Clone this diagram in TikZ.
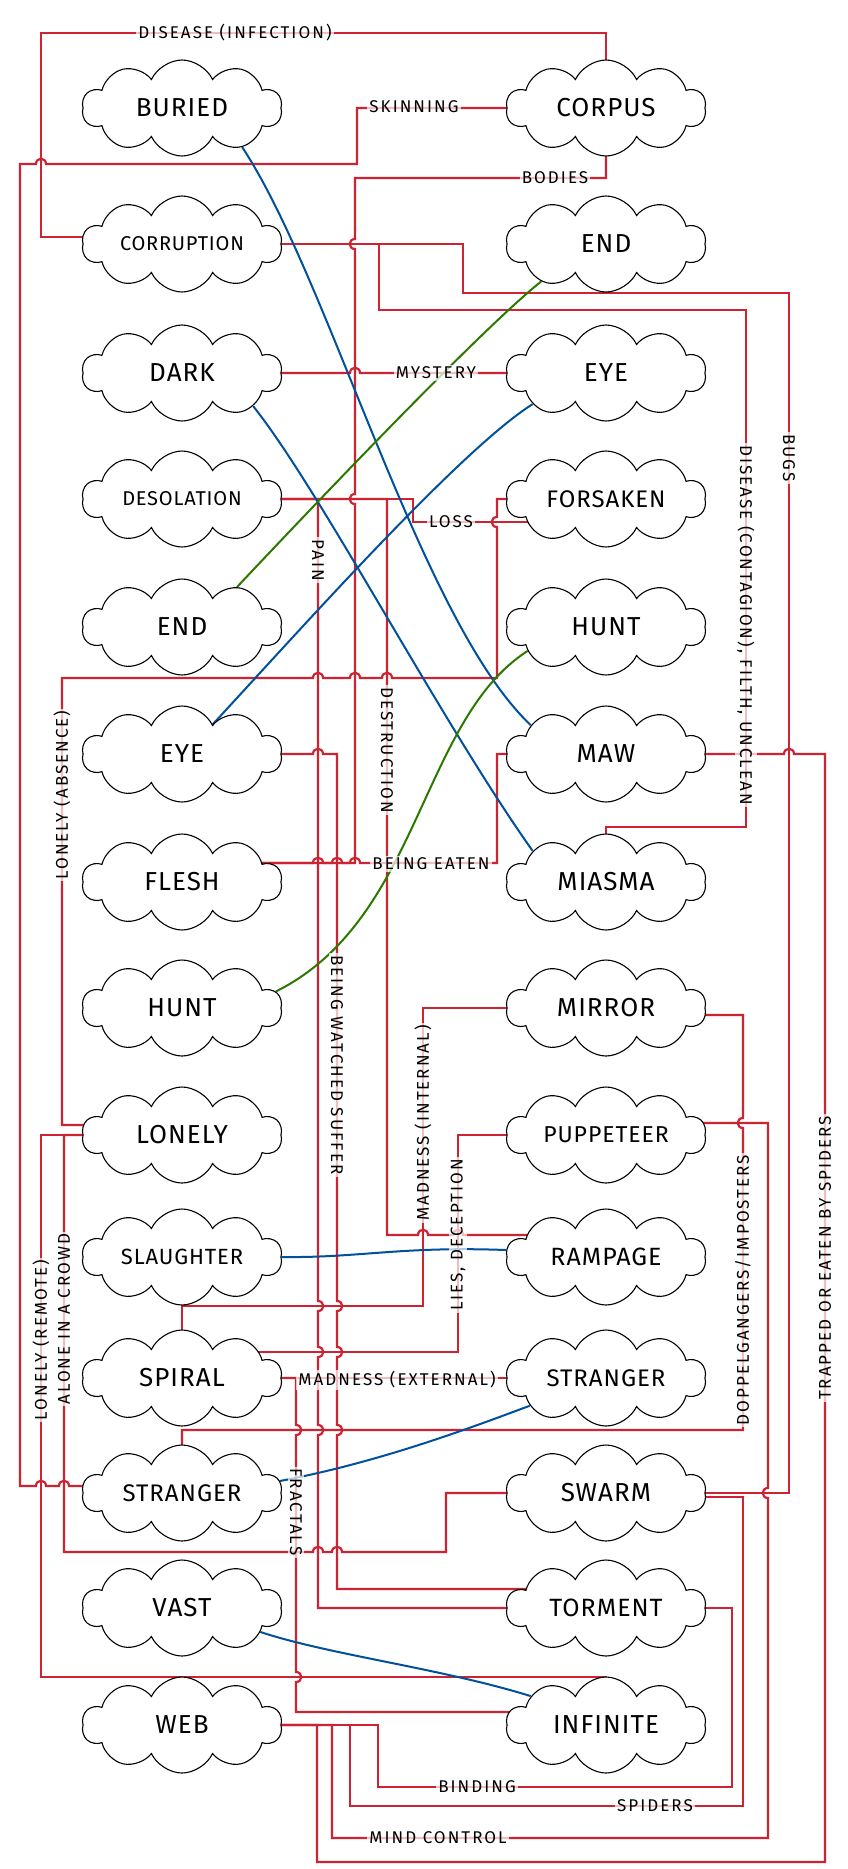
\documentclass[tikz,border=0pt]{standalone}
\usepackage{fontspec}
\setmainfont{Fira Sans}
\newfontfamily\nodefont{Fira Sans}[LetterSpace=4]
\newfontfamily\labfont{Fira Sans}[LetterSpace=12]
\usetikzlibrary{shapes.symbols, backgrounds}
\definecolor{linkRed}{RGB}{205, 35, 50}
\definecolor{linkBlue}{RGB}{0, 80, 155}
\definecolor{linkGreen}{RGB}{45, 120, 0}
% text of a cloud, kept out of the cloud size
\newcommand{\clab}[1]{\makebox[0pt][c]{#1}}
% hops where a red line jumps over another one
\newcommand{\hopR}[2]{-- ({#1-5},#2) .. controls ({#1-5},{#2-7}) and ({#1+5},{#2-7}) .. ({#1+5},#2)}
\newcommand{\hopL}[2]{-- ({#1+5},#2) .. controls ({#1+5},{#2-7}) and ({#1-5},{#2-7}) .. ({#1-5},#2)}
\newcommand{\hopD}[2]{-- (#1,{#2-5}) .. controls ({#1-7},{#2-5}) and ({#1-7},{#2+5}) .. (#1,{#2+5})}
\newcommand{\hopDr}[2]{-- (#1,{#2-5}) .. controls ({#1+7},{#2-5}) and ({#1+7},{#2+5}) .. (#1,{#2+5})}

\begin{document}
\begin{tikzpicture}[
    x=1pt, y=-1pt,
    cloudbox/.style={
        cloud, cloud puffs=10, cloud puff arc=130, aspect=2.2, shape border rotate=18,
        draw, line width=1.1pt, fill=white,
        minimum width=200pt, minimum height=96pt, inner sep=0pt,
        font=\nodefont\fontsize{26}{28}\selectfont
    },
    fs/.style={font=\nodefont\fontsize{#1}{#1}\selectfont},
    redline/.style={draw=linkRed, line width=2.2pt},
    blueline/.style={draw=linkBlue, line width=2pt},
    greenline/.style={draw=linkGreen, line width=2pt},
    edgelab/.style={fill=white, fill opacity=0.7, text opacity=1, inner sep=2pt,
        font=\labfont\fontsize{17}{19}\selectfont}
]
\useasboundingbox (0,0) rectangle (847,1869);

% left column
\node[cloudbox] (buried) at (182,108) {\clab{BURIED}};
\node[cloudbox, fs=20] (corruption) at (182,244) {\clab{CORRUPTION}};
\node[cloudbox] (dark) at (182,373) {\clab{DARK}};
\node[cloudbox, fs=20] (desolation) at (182,499) {\clab{DESOLATION}};
\node[cloudbox] (endL) at (182,627) {\clab{END}};
\node[cloudbox] (eyeL) at (182,754) {\clab{EYE}};
\node[cloudbox] (flesh) at (182,882) {\clab{FLESH}};
\node[cloudbox] (huntL) at (182,1008) {\clab{HUNT}};
\node[cloudbox] (lonely) at (182,1135) {\clab{LONELY}};
\node[cloudbox, fs=22] (slaughter) at (182,1257) {\clab{SLAUGHTER}};
\node[cloudbox] (spiral) at (182,1378) {\clab{SPIRAL}};
\node[cloudbox, fs=24] (strangerL) at (182,1493) {\clab{STRANGER}};
\node[cloudbox] (vast) at (182,1608) {\clab{VAST}};
\node[cloudbox] (web) at (182,1725) {\clab{WEB}};
% right column
\node[cloudbox] (corpus) at (606,108) {\clab{CORPUS}};
\node[cloudbox] (endR) at (606,244) {\clab{END}};
\node[cloudbox] (eyeR) at (606,373) {\clab{EYE}};
\node[cloudbox, fs=24] (forsaken) at (606,499) {\clab{FORSAKEN}};
\node[cloudbox] (huntR) at (606,627) {\clab{HUNT}};
\node[cloudbox] (maw) at (606,754) {\clab{MAW}};
\node[cloudbox] (miasma) at (606,882) {\clab{MIASMA}};
\node[cloudbox] (mirror) at (606,1008) {\clab{MIRROR}};
\node[cloudbox, fs=23] (puppeteer) at (606,1135) {\clab{PUPPETEER}};
\node[cloudbox, fs=25] (rampage) at (606,1257) {\clab{RAMPAGE}};
\node[cloudbox, fs=24] (strangerR) at (606,1378) {\clab{STRANGER}};
\node[cloudbox] (swarm) at (606,1493) {\clab{SWARM}};
\node[cloudbox, fs=25] (torment) at (606,1608) {\clab{TORMENT}};
\node[cloudbox] (infinite) at (606,1725) {\clab{INFINITE}};

\begin{scope}[on background layer]
\fill[white] (0,0) rectangle (847,1869);
% red links
\draw[redline] (corpus.center) -- (606,33) -- (41,33) -- (41,237) -- ([yshift=7pt]corruption.center);
\draw[redline] (corpus.center) -- (357,108) -- (357,164) \hopL{41}{164} -- (20,164) -- (20,1486) \hopR{41}{1486} \hopR{64}{1486} -- ([yshift=7pt]strangerL.center);
\draw[redline] (corpus.center) -- (606,178) -- (355,178) \hopD{355}{244} \hopD{355}{499} -- (355,863) -- ([yshift=19pt]flesh.center);
\draw[redline] ([yshift=19pt]flesh.center) \hopR{318}{863} \hopR{337}{863} \hopR{355}{863} -- (497,863) -- (497,754) -- (maw.center);
\draw[redline] (corruption.center) -- (463,244) -- (463,293) -- (789,293) -- (789,1493) -- (swarm.center);
\draw[redline] (corruption.center) -- (379,244) -- (379,310) -- (746,310) -- (746,827) -- (606,827) -- (miasma.center);
\draw[redline] (dark.center) \hopR{355}{373} -- (eyeR.center);
\draw[redline] (desolation.center) -- (413,499) -- (413,522) -- ([yshift=-23pt]forsaken.center);
\draw[redline] (forsaken.center) -- (497,499) \hopD{497}{522} -- (497,678) \hopL{387}{678} \hopL{355}{678} \hopL{318}{678} -- (62,678) -- (62,1125) -- ([yshift=10pt]lonely.center);
\draw[redline] (desolation.center) -- (318,499) \hopDr{318}{1306} \hopDr{318}{1352} \hopDr{318}{1430} -- (318,1608) -- (torment.center);
\draw[redline] (eyeL.center) \hopR{318}{754} -- (337,754) \hopDr{337}{1306} \hopDr{337}{1352} \hopDr{337}{1430} -- (337,1589) -- ([yshift=19pt]torment.center);
\draw[redline] (desolation.center) -- (387,499) -- (387,1235) \hopR{423}{1235} \hopR{458}{1235} -- ([yshift=22pt]rampage.center);
\draw[redline] (mirror.center) -- (423,1008) -- (423,1306) -- (182,1306) -- (spiral.center);
\draw[redline] (puppeteer.center) -- (458,1135) -- (458,1352) -- ([yshift=26pt]spiral.center);
\draw[redline] (spiral.center) -- (strangerR.center);
\draw[redline] (spiral.center) -- (296,1378) \hopDr{296}{1430} \hopDr{296}{1677} -- (296,1712) -- ([yshift=13pt]infinite.center);
\draw[redline] ([yshift=-7pt]mirror.center) -- (743,1015) \hopD{743}{1123} -- (743,1430) -- (182,1430) -- (strangerL.center);
\draw[redline] ([yshift=12pt]puppeteer.center) -- (768,1123) \hopD{768}{1493} -- (768,1838) -- (332,1838) -- (332,1725) -- (web.center);
\draw[redline] ([yshift=-4pt]swarm.center) -- (743,1497) -- (743,1806) -- (350,1806) -- (350,1725) -- (web.center);
\draw[redline] (torment.center) -- (732,1608) -- (732,1787) -- (378,1787) -- (378,1725) -- (web.center);
\draw[redline] (maw.center) \hopR{746}{754} \hopR{789}{754} -- (825,754) -- (825,1862) -- (317,1862) -- (317,1725) -- (web.center);
\draw[redline] (lonely.center) -- (41,1135) -- (41,1677) -- (606,1677) -- (infinite.center);
\draw[redline] (lonely.center) -- (64,1135) -- (64,1552) \hopR{318}{1552} \hopR{337}{1552} -- (446,1552) -- (446,1493) -- (swarm.center);
% blue and green links
\draw[blueline] (buried.-33) .. controls (330,280) and (420,620) .. (maw.159);
\draw[blueline] (dark.-25) .. controls (320,490) and (440,720) .. (miasma.157);
\draw[blueline] (eyeR.203) .. controls (460,450) and (300,630) .. (eyeL.44);
\draw[greenline] (endR.210) .. controls (480,330) and (300,520) .. (endL.36);
\draw[greenline] (huntR.197) .. controls (420,720) and (420,920) .. (huntL.10);
\draw[blueline] (slaughter.east) .. controls (360,1258) and (400,1246) .. (rampage.176);
\draw[blueline] (strangerR.200) .. controls (470,1428) and (380,1462) .. (strangerL.7);
\draw[blueline] (vast.-17) .. controls (330,1655) and (440,1668) .. (infinite.159);
\end{scope}

% link labels
\node[edgelab] (lInfection) at (235,33) {DISEASE (INFECTION)};
\node[edgelab] (lSkinning) at (414,107) {SKINNING};
\node[edgelab] (lBodies) at (555,178) {BODIES};
\node[edgelab] (lMystery) at (436,373) {MYSTERY};
\node[edgelab, rotate=-90] (lBugs) at (789,458) {BUGS};
\node[edgelab, rotate=-90] (lContagion) at (746,625) {DISEASE (CONTAGION), FILTH, UNCLEAN};
\node[edgelab] (lLoss) at (451,522) {LOSS};
\node[edgelab, rotate=-90] (lPain) at (318,560) {PAIN};
\node[edgelab, rotate=-90] (lDestruction) at (387,750) {DESTRUCTION};
\node[edgelab, rotate=90] (lAbsence) at (62,795) {LONELY (ABSENCE)};
\node[edgelab] (lEaten) at (431,864) {BEING EATEN};
\node[edgelab, rotate=-90] (lWatched) at (337,1065) {BEING WATCHED SUFFER};
\node[edgelab, rotate=90] (lInternal) at (423,1123) {MADNESS (INTERNAL)};
\node[edgelab, rotate=90] (lLies) at (458,1235) {LIES, DECEPTION};
\node[edgelab, rotate=90] (lDoppel) at (743,1290) {DOPPELGANGERS/IMPOSTERS};
\node[edgelab, rotate=90] (lTrapped) at (825,1258) {TRAPPED OR EATEN BY SPIDERS};
\node[edgelab, rotate=90] (lRemote) at (41,1340) {LONELY (REMOTE)};
\node[edgelab, rotate=90] (lCrowd) at (64,1319) {ALONE IN A CROWD};
\node[edgelab] (lExternal) at (397,1380) {MADNESS (EXTERNAL)};
\node[edgelab, rotate=-90] (lFractals) at (296,1512) {FRACTALS};
\node[edgelab] (lBinding) at (477,1787) {BINDING};
\node[edgelab] (lSpiders) at (655,1806) {SPIDERS};
\node[edgelab] (lMind) at (438,1838) {MIND CONTROL};
\end{tikzpicture}
\end{document}
